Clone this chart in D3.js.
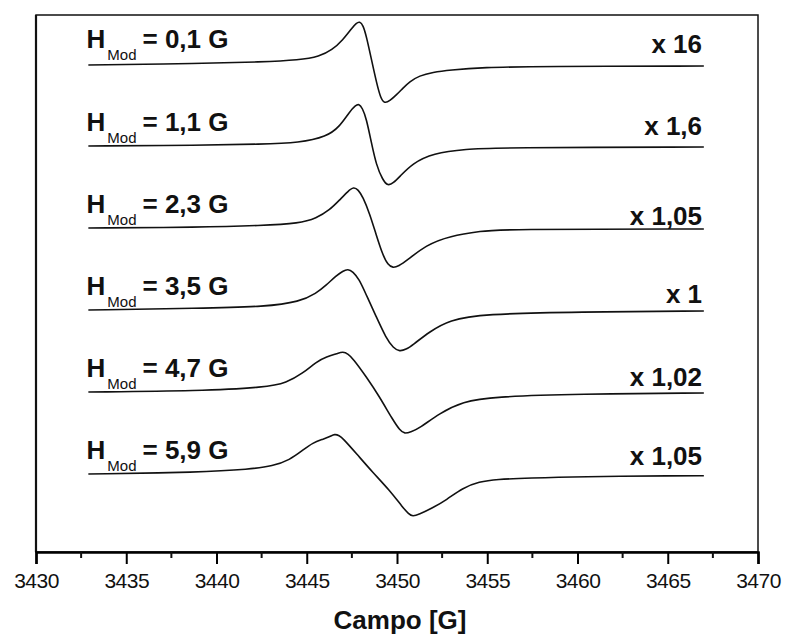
<!DOCTYPE html>
<html>
<head>
<meta charset="utf-8">
<script src="https://cdn.jsdelivr.net/npm/d3@7"></script>
<style>
  body { margin: 0; background: #fff; }
  svg { font-family: "Liberation Sans", Arial, sans-serif; }
</style>
</head>
<body>
<svg id="chart"></svg>
<script>
// field [G], signal [a.u.] relative to each trace's own baseline
const trace01 = [[3432.9, 0], [3439.1, 1.5], [3442.5, 3], [3444.6, 5], [3445.7, 8.5], [3446.4, 15], [3447.0, 25],
  [3447.5, 37], [3447.75, 42], [3447.93, 43.5], [3448.12, 40], [3448.31, 28.3], [3448.59, 5], [3448.87, -18],
  [3449.09, -33], [3449.31, -38.5], [3449.59, -36], [3449.96, -30], [3450.32, -23.3], [3450.69, -16.7],
  [3451.24, -10.7], [3451.98, -7.3], [3452.9, -5], [3454.73, -2.3], [3458.0, -1.5], [3467.0, -1]];
const trace02 = [[3432.9, 0], [3439.1, 0.7], [3442.5, 1.8], [3444.6, 3.3], [3446.1, 9.3], [3446.82, 19.3],
  [3447.37, 34.3], [3447.7, 40.5], [3447.89, 42.3], [3448.08, 38], [3448.3, 27.7], [3448.57, 4.3], [3448.85, -19],
  [3449.21, -34], [3449.49, -40], [3449.8, -37], [3450.14, -30.7], [3450.87, -17.3], [3451.98, -7.3],
  [3453.83, -3], [3455.67, -1.7], [3467.0, -1]];
const trace03 = [[3432.9, 0], [3439.1, 0.7], [3442.5, 2.5], [3444.6, 4.7], [3445.53, 9.7], [3446.27, 18], [3446.82, 28],
  [3447.3, 37], [3447.59, 41], [3447.85, 38.5], [3448.11, 31], [3448.48, 14.7], [3448.85, -7], [3449.21, -27],
  [3449.5, -37], [3449.77, -40], [3450.1, -38], [3450.51, -33], [3451.62, -17], [3452.9, -8], [3454.75, -3],
  [3455.7, -1.3], [3467.0, -1]];
const trace04 = [[3432.9, 0], [3439.1, 1.7], [3442.76, 3.3], [3444.61, 8.3], [3445.53, 16.7], [3446.08, 25],
  [3446.64, 34.3], [3447.0, 39], [3447.28, 41], [3447.55, 38.5], [3447.9, 31], [3448.3, 15], [3448.85, -6.7],
  [3449.4, -28.3], [3449.8, -38], [3450.14, -41.5], [3450.5, -39.5], [3450.87, -35], [3451.8, -21.7], [3452.9, -10],
  [3454.75, -4], [3460.0, -2], [3467.0, -1]];
const trace05 = [[3432.9, 0], [3439.1, 1], [3442.76, 4.7], [3443.87, 9.3], [3444.79, 18.7], [3445.53, 30.3],
  [3446.1, 35.3], [3446.7, 38.5], [3447.0, 40.5], [3447.3, 38], [3447.55, 33.7], [3448.3, 15.3], [3449.03, -4.7],
  [3449.77, -28], [3450.15, -38], [3450.41, -42], [3450.8, -39.5], [3451.24, -36.3], [3452.35, -21.3],
  [3453.64, -9.7], [3455.3, -4.7], [3460.0, -2], [3467.0, -1]];
const trace06 = [[3432.9, 0], [3439.1, 1.7], [3441.84, 4.7], [3443.13, 8], [3444.05, 14], [3444.79, 24],
  [3445.34, 31.3], [3445.89, 34.7], [3446.3, 37.5], [3446.54, 40], [3446.8, 38.5], [3447.0, 35.7], [3447.74, 20.7],
  [3448.66, 1.5], [3449.58, -16], [3450.32, -33.5], [3450.65, -40], [3450.87, -42.5], [3451.2, -40.5],
  [3451.96, -34], [3452.74, -26], [3453.62, -14], [3454.56, -7.7], [3455.5, -5.3], [3457.33, -4], [3460.1, -2.7],
  [3465.63, -1.7], [3467.0, -1.7]];

const traces = [trace01, trace02, trace03, trace04, trace05, trace06];
const offsets = [487, 406, 324, 242, 160, 78];
const modValues = ["0,1", "1,1", "2,3", "3,5", "4,7", "5,9"];
const scaleLabels = ["x 16", "x 1,6", "x 1,05", "x 1", "x 1,02", "x 1,05"];
const xTicks = [3430, 3435, 3440, 3445, 3450, 3455, 3460, 3465, 3470];

// label lift above each trace baseline (layout only)
const scaleLabelLift = [12, 11, 3, 7, 6, 9];

const width = 785;
const height = 637;
const margin = { top: 15, right: 27, bottom: 85, left: 36 };

const svg = d3.select("#chart")
  .attr("width", width)
  .attr("height", height);

const x = d3.scaleLinear()
  .domain([3430, 3470])
  .range([margin.left, width - margin.right]);

const y = d3.scaleLinear()
  .domain([0, 537])
  .range([height - margin.bottom, margin.top]);

// frame
svg.append("rect")
  .attr("x", margin.left)
  .attr("y", margin.top)
  .attr("width", width - margin.right - margin.left)
  .attr("height", height - margin.bottom - margin.top)
  .attr("fill", "none")
  .attr("stroke", "#111")
  .attr("stroke-width", 1.5);

svg.append("line")
  .attr("x1", margin.left)
  .attr("x2", margin.left)
  .attr("y1", margin.top)
  .attr("y2", height - margin.bottom)
  .attr("stroke", "#111")
  .attr("stroke-width", 2.2);

// bottom axis, major + minor ticks
const xAxis = svg.append("g")
  .attr("transform", `translate(0,${height - margin.bottom})`)
  .call(d3.axisBottom(x).tickValues(xTicks).tickSize(12).tickPadding(9)
    .tickFormat(d3.format("d")));
xAxis.select(".domain").attr("stroke-width", 2.5);
xAxis.selectAll(".tick line").attr("stroke-width", 2);
xAxis.selectAll(".tick text")
  .attr("font-size", 21)
  .attr("font-family", "Liberation Sans, Arial, sans-serif")
  .attr("letter-spacing", -0.5)
  .attr("fill", "#111");

svg.append("g")
  .selectAll("line")
  .data(d3.range(3432.5, 3470, 5))
  .enter()
  .append("line")
  .attr("x1", (d) => x(d))
  .attr("x2", (d) => x(d))
  .attr("y1", height - margin.bottom)
  .attr("y2", height - margin.bottom + 6)
  .attr("stroke", "#111")
  .attr("stroke-width", 2);

svg.append("text")
  .attr("x", 400)
  .attr("y", 629)
  .attr("text-anchor", "middle")
  .attr("font-size", 26)
  .attr("font-weight", "bold")
  .attr("fill", "#111")
  .text("Campo [G]");

const line = d3.line()
  .x((d) => x(d[0]))
  .y((d) => y(d[1]))
  .curve(d3.curveBasis);

svg.append("g")
  .selectAll("path")
  .data(traces)
  .enter()
  .append("path")
  .attr("d", (d, i) => line(d.map((p) => [p[0], p[1] + offsets[i]])))
  .attr("fill", "none")
  .attr("stroke", "#111")
  .attr("stroke-width", 1.6);

// left labels: H_Mod = ... G
const modText = svg.append("g")
  .selectAll("text")
  .data(modValues)
  .enter()
  .append("text")
  .attr("x", x(3432.8))
  .attr("y", (d, i) => y(offsets[i] + (i === 0 ? 17 : 15)))
  .attr("font-size", 26)
  .attr("font-weight", "bold")
  .attr("fill", "#111");
modText.append("tspan").text("H");
modText.append("tspan")
  .attr("dx", 2)
  .attr("dy", 12)
  .attr("font-size", 15)
  .attr("font-weight", "normal")
  .text("Mod");
modText.append("tspan")
  .attr("dx", 6)
  .attr("dy", -12)
  .text((d) => `= ${d} G`);

// right labels: scale factors
svg.append("g")
  .selectAll("text")
  .data(scaleLabels)
  .enter()
  .append("text")
  .attr("x", x(3466.9))
  .attr("y", (d, i) => y(offsets[i] + scaleLabelLift[i]))
  .attr("text-anchor", "end")
  .attr("font-size", 26)
  .attr("font-weight", "bold")
  .attr("fill", "#111")
  .text((d) => d);
</script>
</body>
</html>
